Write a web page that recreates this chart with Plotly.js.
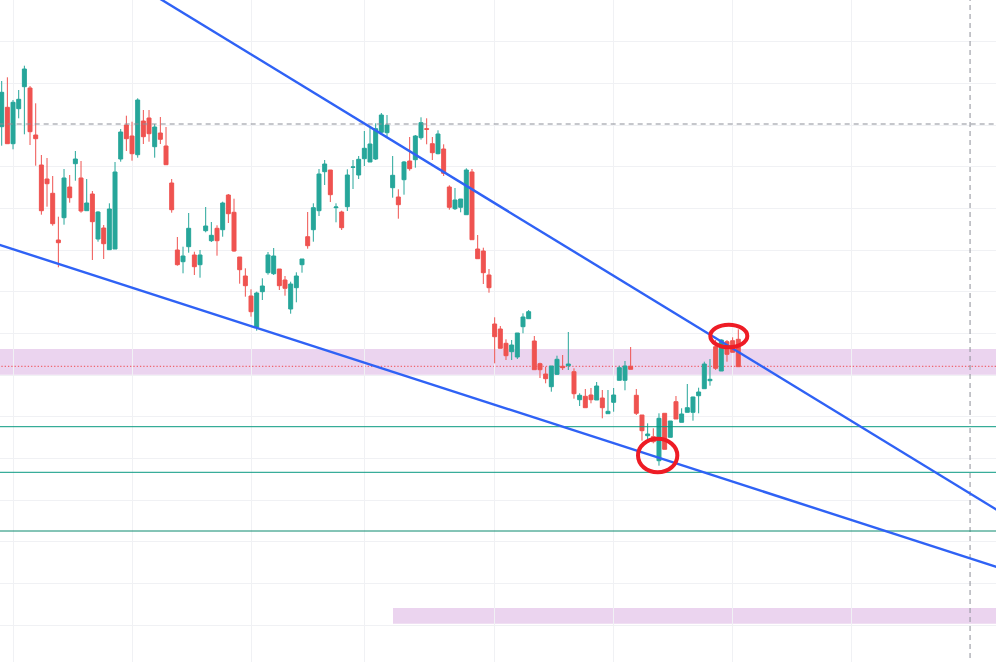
<!DOCTYPE html>
<html>
<head>
<meta charset="utf-8">
<script src="https://cdn.plot.ly/plotly-3.0.1.min.js"></script>
<style>html,body{margin:0;padding:0;background:#fff;}#chart{width:996px;height:662px;}</style>
</head>
<body>
<div id="chart"></div>
<script>
// Candle data (price units), one value per bar
const opens = [
57.33,59.27,55.63,59.13,61.33,61.2,56.5,53.5,52.1,50.67,
46.0,48.23,51.3,53.63,52.2,48.93,50.6,46.1,47.2,45.03,
45.1,54.1,57.5,56.4,54.53,57.9,58.2,55.33,56.7,55.4,
51.7,45.0,43.83,45.33,44.5,43.53,46.93,45.93,47.17,47.03,
50.5,48.77,44.3,42.4,40.4,37.27,40.83,42.73,42.63,43.1,
42.0,39.1,41.23,43.53,46.33,47.03,48.93,52.83,53.0,49.23,
48.8,49.33,53.27,52.5,54.13,53.8,54.1,56.77,56.73,51.23,
50.3,52.03,53.9,54.03,56.23,57.13,55.63,54.63,55.1,51.3,
49.13,49.27,48.53,52.8,45.1,44.9,42.5,37.6,37.1,35.67,
34.83,34.3,37.33,38.13,35.9,33.63,32.6,31.33,32.57,33.37,
33.43,32.83,30.03,30.37,30.5,30.0,30.2,28.63,29.77,31.97,
31.97,33.37,30.47,28.5,26.43,26.33,23.93,28.67,26.27,29.83,
27.77,28.77,28.77,30.43,31.13,31.93,35.33,32.9,35.83,35.93,
36.07];
const highs = [
61.9,62.27,60.0,61.0,63.43,61.4,59.67,54.5,54.2,52.4,
48.33,53.1,52.5,54.9,53.9,52.1,50.9,48.87,47.5,49.67,
53.8,57.1,58.43,57.83,60.17,59.0,59.0,57.6,58.3,57.3,
52.1,46.3,45.33,48.7,44.83,45.0,49.3,47.8,47.47,49.83,
50.6,50.13,44.3,43.17,41.07,40.83,42.17,44.8,45.2,43.1,
42.4,41.83,42.77,44.1,48.8,49.67,53.1,54.0,53.0,49.67,
48.93,53.07,54.0,54.4,56.9,57.4,57.67,58.7,58.5,54.4,
51.07,53.9,56.3,56.5,58.27,58.17,56.3,56.97,55.57,51.47,
51.2,50.1,53.17,53.1,46.5,45.23,43.1,38.27,37.4,36.07,
36.0,36.7,38.67,39.0,36.4,33.73,33.33,33.4,34.43,34.5,
36.8,33.17,30.67,31.1,31.2,31.8,31.0,31.0,31.2,33.43,
33.9,35.3,31.1,28.5,27.67,27.17,28.67,28.67,27.9,30.4,
29.17,31.6,30.33,31.23,33.83,34.1,36.0,36.07,36.0,36.27,
37.07];
const lows = [
55.43,55.63,55.07,58.17,56.57,55.5,53.43,48.53,49.33,47.43,
43.27,47.53,49.73,51.93,48.73,48.93,44.0,45.83,44.1,45.03,
45.1,53.83,54.9,53.93,54.23,55.6,55.83,54.23,55.6,53.53,
48.73,43.43,42.67,44.73,42.5,42.23,46.77,45.8,44.43,46.33,
47.7,44.83,41.63,40.33,38.33,36.93,40.0,42.53,42.5,41.0,
40.43,38.63,39.77,42.73,45.13,45.83,48.4,51.5,49.8,47.77,
47.0,48.9,51.1,52.1,53.4,53.8,54.0,56.7,56.33,50.23,
48.13,50.53,52.93,53.23,56.03,55.57,54.0,54.57,52.4,49.03,
49.0,48.77,48.53,46.03,44.13,41.6,40.73,33.67,35.17,34.0,
34.0,34.1,36.67,38.13,33.03,32.2,31.67,30.83,32.5,33.0,
33.0,30.13,29.4,29.23,29.67,30.0,28.17,28.63,28.83,31.97,
30.97,33.07,28.5,25.93,26.0,25.67,23.43,25.07,26.27,28.1,
27.77,28.77,27.93,28.67,31.13,31.43,33.0,32.9,33.83,34.77,
33.33];
const closes = [
60.77,55.63,59.77,60.07,63.1,56.83,56.13,48.93,51.63,47.63,
45.73,52.2,50.23,54.1,48.9,49.7,47.83,48.8,45.63,49.1,
52.8,56.8,56.13,54.63,60.0,56.33,56.63,57.3,56.07,53.53,
49.03,43.53,44.4,47.17,43.33,44.5,47.4,46.47,45.93,49.7,
48.63,44.9,43.03,41.43,38.83,40.7,41.4,44.5,44.4,41.43,
41.17,41.6,42.4,44.1,45.43,49.23,52.6,53.6,50.53,49.3,
47.23,52.5,53.3,54.07,55.17,55.6,57.13,58.5,57.5,52.47,
49.53,53.8,53.13,56.4,57.73,57.07,54.73,56.6,52.67,49.27,
50.0,50.1,53.0,46.03,44.13,42.73,41.23,36.33,35.17,34.43,
35.5,36.7,38.3,38.83,33.03,33.03,32.13,33.4,34.07,33.23,
33.6,30.63,30.47,29.23,30.03,31.4,29.23,28.87,30.5,33.23,
33.4,33.07,28.67,26.93,26.6,25.83,28.17,25.07,27.9,28.1,
28.6,29.23,30.3,30.8,33.6,32.07,33.17,36.0,34.57,34.77,
33.33];
const barIndex = opens.map((_, i) => i);

// Vertical grid positions (bar index) and crosshair
const gridIdx = [2, 23, 44, 64, 87, 108, 129, 150];
const crossX = 170.9;
const crossY = 57.6;

// Drawings (price / bar index)
const upperTrend = {x: [28.29, 175.48], y: [70.0, 19.07]};
const lowerTrend = {x: [-0.3, 175.48], y: [45.5, 13.33]};
const greenLevels = [27.33, 22.77];
const darkLevel = 16.9;
const zoneBand = [32.53, 35.1];
const lowerBand = {x0: 69.06, y: [7.63, 9.2]};
const lastPrice = 33.37;
const circles = [
  {x: [125.06, 131.59], y: [35.27, 37.53]},
  {x: [112.3, 119.24], y: [22.77, 26.13]}
];

const xr = [-0.3, 175.48];
const yr = [3.8, 70.0];

const trace = {
  type: 'candlestick',
  x: barIndex, open: opens, high: highs, low: lows, close: closes,
  increasing: {line: {color: '#26a69a', width: 1}, fillcolor: '#26a69a'},
  decreasing: {line: {color: '#ef5350', width: 1}, fillcolor: '#ef5350'},
  whiskerwidth: 0,
  hoverinfo: 'none'
};

const shapes = [];
// bands
shapes.push({type: 'rect', xref: 'x', yref: 'y', x0: xr[0] - 5, x1: xr[1] + 5, y0: zoneBand[0], y1: zoneBand[1],
  fillcolor: 'rgba(156,39,176,0.2)', line: {width: 0}, layer: 'below'});
shapes.push({type: 'rect', xref: 'x', yref: 'y', x0: lowerBand.x0, x1: xr[1] + 5, y0: lowerBand.y[0], y1: lowerBand.y[1],
  fillcolor: 'rgba(156,39,176,0.2)', line: {width: 0}, layer: 'below'});
// last price dotted
shapes.push({type: 'line', xref: 'x', yref: 'y', x0: xr[0] - 5, x1: xr[1] + 5, y0: lastPrice, y1: lastPrice,
  line: {color: '#f04a50', width: 1, dash: '1.3px,2px'}, layer: 'below'});
// crosshair
shapes.push({type: 'line', xref: 'x', yref: 'y', x0: xr[0] - 5, x1: xr[1] + 5, y0: crossY, y1: crossY,
  line: {color: '#8c8f98', width: 1, dash: '5px,4px'}});
shapes.push({type: 'line', xref: 'x', yref: 'y', x0: crossX, x1: crossX, y0: yr[0] - 5, y1: yr[1] + 5,
  line: {color: '#8c8f98', width: 1, dash: '5px,4px'}});
// horizontal levels
greenLevels.forEach(v => shapes.push({type: 'line', xref: 'x', yref: 'y', x0: xr[0] - 5, x1: xr[1] + 5, y0: v, y1: v,
  line: {color: '#089981', width: 1}}));
shapes.push({type: 'line', xref: 'x', yref: 'y', x0: xr[0] - 5, x1: xr[1] + 5, y0: darkLevel, y1: darkLevel,
  line: {color: '#0b8a6e', width: 1}});
// trend lines (extended beyond view)
function extend(t) {
  const s = (t.y[1] - t.y[0]) / (t.x[1] - t.x[0]);
  const xa = -20, xb = 200;
  return {x0: xa, y0: t.y[0] + s * (xa - t.x[0]), x1: xb, y1: t.y[0] + s * (xb - t.x[0])};
}
[upperTrend, lowerTrend].forEach(t => {
  const e = extend(t);
  shapes.push(Object.assign({type: 'line', xref: 'x', yref: 'y', line: {color: '#2f62f5', width: 2.4}}, e));
});
circles.forEach(c => shapes.push({type: 'circle', xref: 'x', yref: 'y', x0: c.x[0], x1: c.x[1], y0: c.y[0], y1: c.y[1],
  line: {color: '#ee1c25', width: 4}}));

const layout = {
  width: 996, height: 662,
  margin: {l: 0, r: 0, t: 0, b: 0, pad: 0},
  paper_bgcolor: '#ffffff', plot_bgcolor: '#ffffff',
  showlegend: false,
  boxgap: 0.3,
  boxgroupgap: 0,
  xaxis: {range: xr, rangeslider: {visible: false}, showticklabels: false, ticks: '',
    tickmode: 'array', tickvals: gridIdx, showgrid: true, gridcolor: '#f0f1f4', gridwidth: 1,
    zeroline: false, showline: false, fixedrange: true},
  yaxis: {range: yr, showticklabels: false, ticks: '', tick0: 70, dtick: 4.166667,
    showgrid: true, gridcolor: '#f0f1f4', gridwidth: 1, zeroline: false, showline: false, fixedrange: true},
  shapes: shapes,
  hovermode: false
};

Plotly.newPlot('chart', [trace], layout, {displayModeBar: false, staticPlot: true});
</script>
</body>
</html>
